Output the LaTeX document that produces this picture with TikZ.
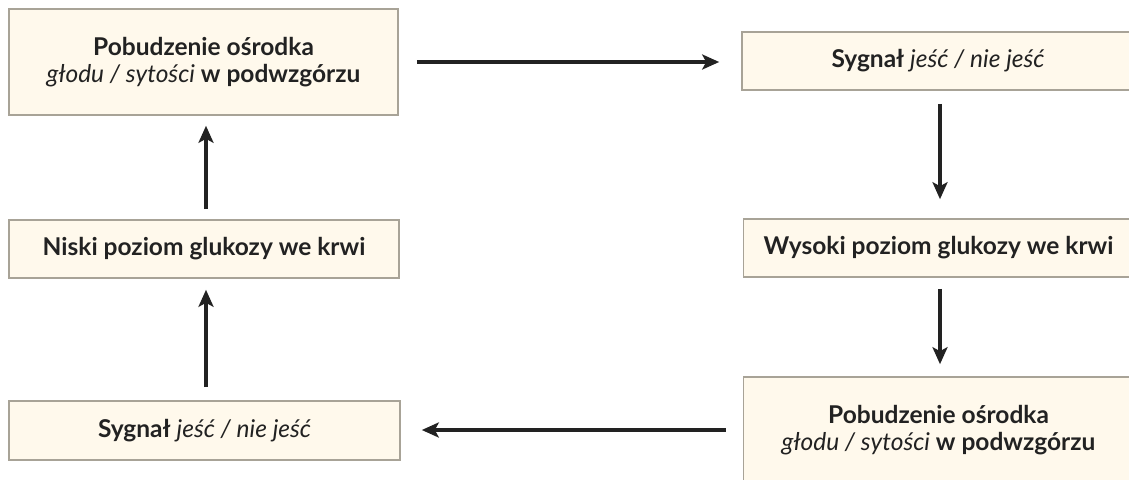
\documentclass[tikz,border=0pt]{standalone}
\usepackage{fontspec}
\setmainfont{Lato}
\usetikzlibrary{arrows.meta}
\definecolor{boxfill}{HTML}{FFF9EC}
\definecolor{boxline}{HTML}{A8A397}
\definecolor{ink}{HTML}{222222}
\newcommand{\itl}[1]{{\mdseries\itshape #1}}
\begin{document}
\begin{tikzpicture}[x=1pt,y=-1pt,
  box/.style={draw=boxline,fill=boxfill,line width=1.6pt,inner sep=0pt,
    align=center,font=\fontsize{24.5}{27}\selectfont\bfseries,text=ink},
  arr/.style={draw=ink,line width=3.4pt,-{Stealth[length=17pt,width=15pt,inset=4pt]}}]
\useasboundingbox (0,0) rectangle (1129,479);
\clip (0,0) rectangle (1129,479);
\fill[white] (0,0) rectangle (1129,479);
\coordinate (xr) at (940,0);
\coordinate (xl) at (206,0);
\coordinate (yb) at (0,430);
\node[box,minimum width=389pt,minimum height=106pt] (A) at (203.5,62)
  {Pobudzenie ośrodka\\\itl{głodu / sytości} w podwzgórzu};
\node[box,minimum width=392pt,minimum height=58pt] (B) at (938,61)
  {Sygnał \itl{jeść / nie jeść}};
\node[box,minimum width=390pt,minimum height=58pt] (C) at (204,249)
  {Niski poziom glukozy we krwi};
\node[box,minimum width=390pt,minimum height=58pt] (D) at (938.5,248)
  {Wysoki poziom glukozy we krwi};
\node[box,minimum width=391pt,minimum height=59pt] (E) at (204.5,430.5)
  {Sygnał \itl{jeść / nie jeść}};
\node[box,minimum width=390pt,minimum height=106pt] (F) at (938.5,430)
  {Pobudzenie ośrodka\\\itl{głodu / sytości} w podwzgórzu};
\draw[arr,shorten <=18pt,shorten >=22pt] (A.east) -- (A.east -| B.west);
\draw[arr,shorten <=13pt,shorten >=19pt] (B.south -| xr) -- (D.north -| xr);
\draw[arr,shorten <=11pt,shorten >=12pt] (D.south -| xr) -- (F.north -| xr);
\draw[arr,shorten <=17pt,shorten >=21pt] (F.west |- yb) -- (E.east |- yb);
\draw[arr,shorten <=13pt,shorten >=11pt] (E.north -| xl) -- (C.south -| xl);
\draw[arr,shorten <=10pt,shorten >=10pt] (C.north -| xl) -- (A.south -| xl);
\end{tikzpicture}
\end{document}
